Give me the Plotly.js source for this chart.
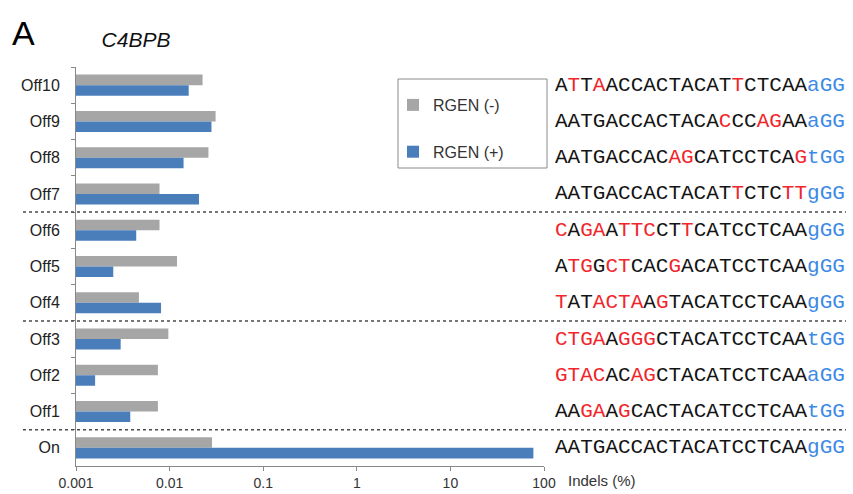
<!DOCTYPE html>
<html>
<head>
<meta charset="utf-8">
<script src="https://cdn.plot.ly/plotly-3.0.1.min.js"></script>
<style>html,body{margin:0;padding:0;background:#fff;}#chart{width:853px;height:494px;}</style>
</head>
<body>
<div id="chart"></div>
<script>
// ---- data ----
const categories = ['Off10','Off9','Off8','Off7','Off6','Off5','Off4','Off3','Off2','Off1','On'];
const rgenMinus = [0.0225, 0.031, 0.026, 0.0078, 0.0078, 0.012, 0.0047, 0.0097, 0.0075, 0.0075, 0.0284];
const rgenPlus  = [0.016, 0.028, 0.0141, 0.0206, 0.0044, 0.0025, 0.0081, 0.0030, 0.0016, 0.0038, 77];
const seriesNames = ['RGEN (-)', 'RGEN (+)'];
const tickVals = [0.001, 0.01, 0.1, 1, 10, 100];
const tickText = ['0.001', '0.01', '0.1', '1', '10', '100'];
// target sequences: 20-nt protospacer + PAM; lower-case first PAM base
const sequences = [
  'ATTAACCACTACATTCTCAAaGG',
  'AATGACCACTACACCCAGAAaGG',
  'AATGACCACAGCATCCTCAGtGG',
  'AATGACCACTACATTCTCTTgGG',
  'CAGAATTCCTTCATCCTCAAgGG',
  'ATGGCTCACGACATCCTCAAgGG',
  'TATACTAAGTACATCCTCAAgGG',
  'CTGAAGGGCTACATCCTCAAtGG',
  'GTACACAGCTACATCCTCAAaGG',
  'AAGAAGCACTACATCCTCAAtGG',
  'AATGACCACTACATCCTCAAgGG'
];
const onTarget = sequences[sequences.length - 1];
const groupBoundaries = [3.5, 6.5, 9.5];

// ---- styling / geometry ----
const W = 853, Hh = 494;
const M = {l: 76, r: 309, t: 67, b: 28};
const PW = W - M.l - M.r, PH = Hh - M.t - M.b;
const px2x = p => (p - M.l) / PW;
const py2y = p => 1 - (p - M.t) / PH;
const RED = '#f0262c', PAM = '#3d8ae6';
const SANS = 'Liberation Sans, Arial, sans-serif';

function colorSeq(seq) {
  let out = '';
  for (let i = 0; i < seq.length; i++) {
    const c = seq[i];
    if (i >= 20) out += '<span style="color:' + PAM + '">' + c + '</span>';
    else if (c !== onTarget[i]) out += '<span style="color:' + RED + '">' + c + '</span>';
    else out += c;
  }
  return out;
}

const traces = [
  {type: 'bar', orientation: 'h', name: seriesNames[0], y: categories, x: rgenMinus,
   marker: {color: '#a6a6a6'}, legendgroup: 'a', hoverinfo: 'x+y'},
  {type: 'bar', orientation: 'h', name: seriesNames[1], y: categories, x: rgenPlus,
   marker: {color: '#4a7ebb'}, legendgroup: 'b', hoverinfo: 'x+y'}
];

const annotations = [
  {text: 'A', xref: 'paper', yref: 'paper', x: px2x(10), y: py2y(33), xanchor: 'left', yanchor: 'middle',
   showarrow: false, font: {family: SANS, size: 34, color: '#000'}},
  {text: 'Indels (%)', xref: 'paper', yref: 'paper', x: px2x(566), y: py2y(480), xanchor: 'left', yanchor: 'middle',
   showarrow: false, font: {family: SANS, size: 15, color: '#333'}}
];
categories.forEach((c, i) => {
  annotations.push({
    text: colorSeq(sequences[i]), xref: 'paper', yref: 'y', x: px2x(553), y: c,
    xanchor: 'left', yanchor: 'middle', showarrow: false,
    font: {family: 'Liberation Mono, DejaVu Sans Mono, monospace', size: 21, color: '#141414'}
  });
});

const shapes = groupBoundaries.map(b => ({
  type: 'line', xref: 'paper', yref: 'y', x0: px2x(23), x1: px2x(846), y0: b, y1: b,
  line: {color: '#4a4a4a', width: 1.5, dash: 'dot'}
}));
shapes.push({type: 'rect', xref: 'paper', yref: 'paper', x0: px2x(398), x1: px2x(547), y0: py2y(79), y1: py2y(168),
  line: {color: '#8a8a8a', width: 1}, fillcolor: 'rgba(0,0,0,0)'});

const layout = {
  width: W, height: Hh,
  margin: M,
  paper_bgcolor: '#fff', plot_bgcolor: '#fff',
  font: {family: SANS, color: '#222'},
  title: {text: '<i>C4BPB</i>', xref: 'container', yref: 'container', x: 136 / W, y: 1 - 40 / Hh,
          xanchor: 'center', yanchor: 'middle', font: {size: 21, color: '#111'}},
  barmode: 'group', bargap: 0.42, bargroupgap: 0,
  showlegend: true,
  legend: {x: px2x(393), y: py2y(88), xanchor: 'left', yanchor: 'top', tracegroupgap: 23,
           bgcolor: 'rgba(0,0,0,0)', borderwidth: 0, font: {size: 16, color: '#333'}},
  xaxis: {type: 'log', range: [-3, 2], tickvals: tickVals, ticktext: tickText,
          showgrid: false, zeroline: false, showline: true, linecolor: '#888', linewidth: 1,
          ticks: 'outside', ticklen: 4, tickcolor: '#888', tickfont: {size: 14, color: '#333'}},
  yaxis: {type: 'category', autorange: 'reversed', showgrid: false, zeroline: false,
          showline: true, linecolor: '#888', linewidth: 1, ticks: 'outside', ticklen: 4,
          tickcolor: '#888', tickson: 'boundaries', ticklabelstandoff: 12,
          tickfont: {size: 16, color: '#222'}},
  annotations: annotations,
  shapes: shapes
};

Plotly.newPlot('chart', traces, layout, {displayModeBar: false, staticPlot: true});
</script>
</body>
</html>
